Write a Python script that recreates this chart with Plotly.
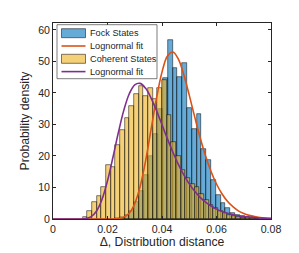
import plotly.graph_objects as go

# ---------------- data ----------------
# Coherent states histogram (probability density), regular bins
coherent_bin_start = 0.0109
coherent_bin_width = 0.00171
coherent_density = [0.7, 2.4, 5.4, 7.2, 10.2, 17.0, 16.5, 23.5, 28.1, 31.9,
                    36.0, 39.7, 42.1, 39.0, 41.6, 38.0, 41.5, 44.0, 33.0, 24.5,
                    20.0, 15.5, 13.0, 11.0, 10.0, 8.0, 6.0, 4.5, 3.5, 2.5,
                    1.8, 1.2, 0.8, 0.6, 0.4, 0.5, 0.2, 0.1, 0.1]

# Fock states histogram (probability density), regular bins
fock_bin_start = 0.02278
fock_bin_width = 0.00176
fock_density = [0.3, 0.6, 1.2, 2.5, 5.5, 8.8, 14.1, 20.0, 27.0, 35.0,
                44.8, 56.7, 48.0, 45.2, 49.6, 35.2, 28.7, 33.3, 22.2, 18.8,
                12.5, 7.7, 5.1, 3.5, 1.9, 1.4, 0.8, 0.5, 0.3, 0.2]

# Lognormal fit curves
fit_x = [0.000, 0.002, 0.004, 0.006, 0.008, 0.010, 0.012, 0.014, 0.016, 0.018,
         0.020, 0.022, 0.024, 0.026, 0.028, 0.030, 0.032, 0.034, 0.036, 0.038,
         0.040, 0.042, 0.044, 0.046, 0.048, 0.050, 0.052, 0.054, 0.056, 0.058,
         0.060, 0.062, 0.064, 0.066, 0.068, 0.070, 0.072, 0.074, 0.076, 0.078,
         0.080]
fock_fit = [0, 0, 0, 0, 0, 0, 0, 0, 0, 0,
            0, 0.02, 0.15, 0.6, 1.9, 4.9, 10.4, 18.5, 28.5, 38.4,
            46.6, 51.7, 53.0, 50.7, 45.8, 39.3, 32.4, 25.8, 20.0, 15.1,
            11.1, 8.0, 5.6, 3.9, 2.6, 1.75, 1.15, 0.75, 0.48, 0.3,
            0.19]
coherent_fit = [0, 0, 0, 0, 0, 0.01, 0.13, 0.74, 2.53, 6.25,
                12.12, 19.59, 27.49, 34.55, 39.74, 42.58, 43.04, 41.46, 38.38, 34.36,
                29.91, 25.42, 21.19, 17.35, 14.01, 11.16, 8.80, 6.88, 5.33, 4.11,
                3.14, 2.39, 1.82, 1.37, 1.04, 0.78, 0.59, 0.44, 0.33, 0.25,
                0.18]

x_ticks = [0, 0.02, 0.04, 0.06, 0.08]
x_tick_text = ["0", "0.02", "0.04", "0.06", "0.08"]
y_ticks = [0, 10, 20, 30, 40, 50, 60]
legend_labels = ["Fock States", "Lognormal fit", "Coherent States", "Lognormal fit"]
x_title = "Δ, Distribution distance"
y_title = "Probability density"

# ---------------- styling ----------------
BLUE = "rgba(0,114,189,0.6)"
YELLOW = "rgba(237,177,32,0.6)"
ORANGE = "rgb(217,83,25)"
PURPLE = "rgb(126,47,142)"
EDGE = "rgba(0,0,0,0.85)"
AX = "#262626"
FONT = "Liberation Sans, Arial, Helvetica, sans-serif"

W, H = 299, 253
ML, MR, MT, MB = 45, 36, 15, 42
PW, PH = W - ML - MR, H - MT - MB

def px_x(p):
    return (p - ML) / PW

def px_y(p):
    return (H - MB - p) / PH

fock_left = [fock_bin_start + i * fock_bin_width for i in range(len(fock_density))]
coh_left = [coherent_bin_start + i * coherent_bin_width for i in range(len(coherent_density))]

fig = go.Figure()
fig.add_trace(go.Bar(x=fock_left, y=fock_density, width=fock_bin_width, offset=0,
                     marker=dict(color=BLUE, line=dict(color=EDGE, width=0.6)),
                     name=legend_labels[0], showlegend=False))
fig.add_trace(go.Bar(x=coh_left, y=coherent_density, width=coherent_bin_width, offset=0,
                     marker=dict(color=YELLOW, line=dict(color=EDGE, width=0.6)),
                     name=legend_labels[2], showlegend=False))
fig.add_trace(go.Scatter(x=fit_x, y=fock_fit, mode="lines", line=dict(color=ORANGE, width=1.6, shape="spline"),
                         name=legend_labels[1], showlegend=False))
fig.add_trace(go.Scatter(x=fit_x, y=coherent_fit, mode="lines", line=dict(color=PURPLE, width=1.6, shape="spline"),
                         name=legend_labels[3], showlegend=False))

# ---------------- manual legend (MATLAB style) ----------------
shapes = []
annotations = []
shapes.append(dict(type="rect", xref="paper", yref="paper",
                   x0=px_x(49), x1=px_x(149), y0=px_y(70.7), y1=px_y(16.7),
                   line=dict(color=AX, width=0.6), fillcolor="white", layer="above"))
rows = [25.2, 38.0, 50.8, 63.6]
kinds = [("patch", BLUE), ("line", ORANGE), ("patch", YELLOW), ("line", PURPLE)]
for (kind, col), ry, lab in zip(kinds, rows, legend_labels):
    if kind == "patch":
        shapes.append(dict(type="rect", xref="paper", yref="paper",
                           x0=px_x(53.5), x1=px_x(77.5), y0=px_y(ry + 4.5), y1=px_y(ry - 4.5),
                           fillcolor=col, line=dict(color=EDGE, width=0.6), layer="above"))
    else:
        shapes.append(dict(type="line", xref="paper", yref="paper",
                           x0=px_x(53.5), x1=px_x(77.5), y0=px_y(ry), y1=px_y(ry),
                           line=dict(color=col, width=1.6), layer="above"))
    annotations.append(dict(xref="paper", yref="paper", x=px_x(79.5), y=px_y(ry),
                            xanchor="left", yanchor="middle", text=lab, showarrow=False,
                            font=dict(family=FONT, size=9.2, color=AX)))

fig.update_layout(
    width=W, height=H,
    margin=dict(l=ML, r=MR, t=MT, b=MB, pad=0),
    paper_bgcolor="white", plot_bgcolor="white",
    barmode="overlay", bargap=0,
    font=dict(family=FONT, size=10.6, color=AX),
    shapes=shapes, annotations=annotations,
    showlegend=False,
)
fig.update_xaxes(range=[0, 0.08], tickvals=x_ticks, ticktext=x_tick_text,
                 ticks="inside", ticklen=3, tickcolor=AX, tickwidth=0.8,
                 showline=True, linecolor=AX, linewidth=0.8, mirror="ticks",
                 showgrid=False, zeroline=False,
                 title=dict(text=x_title, font=dict(size=12.2), standoff=3))
fig.update_yaxes(range=[0, 62.2], tickvals=y_ticks,
                 ticks="inside", ticklen=3, tickcolor=AX, tickwidth=0.8,
                 showline=True, linecolor=AX, linewidth=0.8, mirror="ticks",
                 showgrid=False, zeroline=False,
                 title=dict(text=y_title, font=dict(size=12.2), standoff=5))

fig.write_html("out.html")
